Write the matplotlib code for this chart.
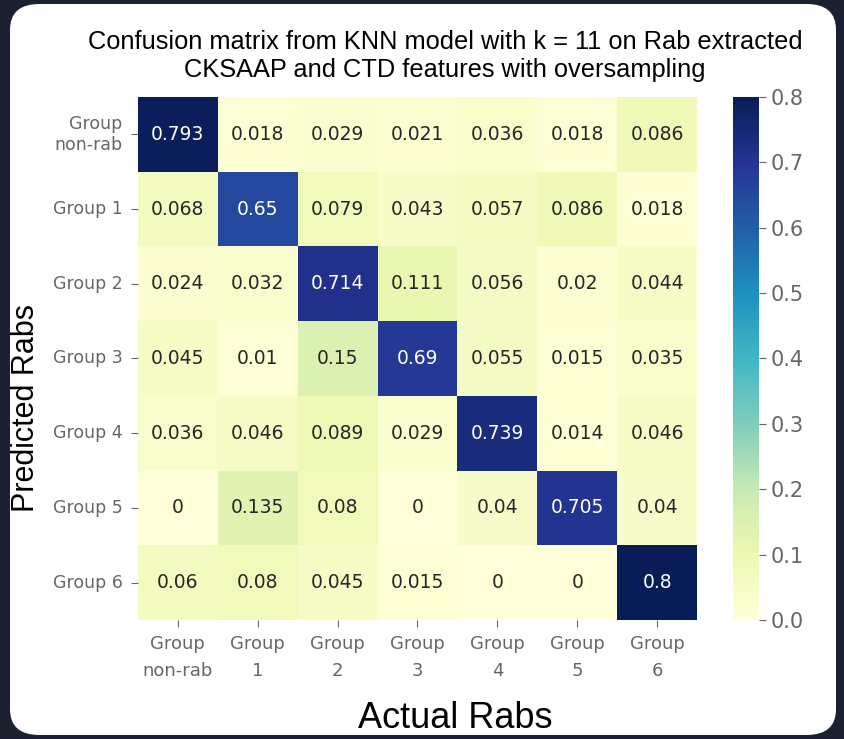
import numpy as np
import matplotlib.pyplot as plt
import seaborn as sns
from matplotlib.patches import FancyBboxPatch

# Row-normalised confusion matrix (rows = predicted, cols = actual)
groups_y = ["Group\nnon-rab", "Group 1", "Group 2", "Group 3", "Group 4", "Group 5", "Group 6"]
groups_x = ["Group\nnon-rab", "Group\n1", "Group\n2", "Group\n3", "Group\n4", "Group\n5", "Group\n6"]
row_nonrab = [0.793, 0.018, 0.029, 0.021, 0.036, 0.018, 0.086]
row_g1 = [0.068, 0.65, 0.079, 0.043, 0.057, 0.086, 0.018]
row_g2 = [0.024, 0.032, 0.714, 0.111, 0.056, 0.02, 0.044]
row_g3 = [0.045, 0.01, 0.15, 0.69, 0.055, 0.015, 0.035]
row_g4 = [0.036, 0.046, 0.089, 0.029, 0.739, 0.014, 0.046]
row_g5 = [0, 0.135, 0.08, 0, 0.04, 0.705, 0.04]
row_g6 = [0.06, 0.08, 0.045, 0.015, 0, 0, 0.8]

cm = np.array([row_nonrab, row_g1, row_g2, row_g3, row_g4, row_g5, row_g6])

W, H = 844, 739
fig = plt.figure(figsize=(W / 100, H / 100), dpi=100, facecolor="#1b2130")

# white rounded card behind the plot
card = FancyBboxPatch((10 / W, 4 / H), 826 / W, 731 / H,
                      boxstyle="round,pad=0,rounding_size=0.035",
                      transform=fig.transFigure, facecolor="white",
                      edgecolor="none", zorder=-10)
fig.patches.append(card)

ax = fig.add_axes([138 / W, 1 - 620 / H, 559 / W, 523 / H])
cax = fig.add_axes([733 / W, 1 - 620 / H, 26 / W, 523 / H])

sns.heatmap(cm, ax=ax, cbar_ax=cax, cmap="YlGnBu", vmin=0, vmax=0.8,
            annot=True, fmt="g", annot_kws={"fontsize": 13.5},
            xticklabels=groups_x, yticklabels=groups_y)

tick_grey = "#666666"
ax.set_xticklabels(groups_x, rotation=0, fontsize=13, color=tick_grey, linespacing=1.6)
ax.set_yticklabels(groups_y, rotation=0, fontsize=12.5, color=tick_grey)
ax.tick_params(colors=tick_grey, length=5, pad=6)

cax.set_yticks([0.0, 0.1, 0.2, 0.3, 0.4, 0.5, 0.6, 0.7, 0.8])
cax.tick_params(labelsize=15, colors=tick_grey, length=5)
for lbl in cax.get_yticklabels():
    lbl.set_color(tick_grey)

fig.text(445 / W, 1 - 56 / H,
         "Confusion matrix from KNN model with k = 11 on Rab extracted\n"
         "CKSAAP and CTD features with oversampling",
         ha="center", va="center", fontsize=18.3, family="Liberation Sans")
fig.text(455 / W, 1 - 718 / H, "Actual Rabs", ha="center", va="center",
         fontsize=26, family="Liberation Sans")
fig.text(26 / W, 1 - 408 / H, "Predicted Rabs", ha="center", va="center",
         rotation=90, fontsize=22, family="Liberation Sans")

fig.savefig("out.png", dpi=100, facecolor=fig.get_facecolor())
